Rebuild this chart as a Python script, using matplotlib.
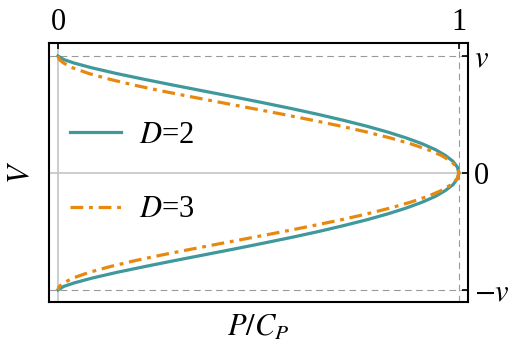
import matplotlib
matplotlib.use("Agg")
import matplotlib.pyplot as plt

plt.rcParams['font.family'] = ['Liberation Serif', 'DejaVu Serif']
plt.rcParams['mathtext.fontset'] = 'stix'

# V in units of v, P in units of C_P
V = [1.0, 0.97, 0.94, 0.9, 0.85, 0.8, 0.75, 0.7, 0.65, 0.6, 0.55, 0.5, 0.45,
     0.4, 0.35, 0.3, 0.25, 0.2, 0.15, 0.1, 0.05, 0.0,
     -0.05, -0.1, -0.15, -0.2, -0.25, -0.3, -0.35, -0.4, -0.45, -0.5, -0.55,
     -0.6, -0.65, -0.7, -0.75, -0.8, -0.85, -0.9, -0.94, -0.97, -1.0]
P_d2 = [0.0, 0.014, 0.040, 0.083, 0.146, 0.216, 0.289, 0.364, 0.439, 0.512,
        0.583, 0.650, 0.712, 0.770, 0.822, 0.868, 0.908, 0.941, 0.966, 0.985,
        0.996, 1.0,
        0.996, 0.985, 0.966, 0.941, 0.908, 0.868, 0.822, 0.770, 0.712, 0.650,
        0.583, 0.512, 0.439, 0.364, 0.289, 0.216, 0.146, 0.083, 0.040, 0.014, 0.0]
P_d3 = [0.0, 0.003, 0.014, 0.036, 0.077, 0.130, 0.191, 0.260, 0.334, 0.410,
        0.487, 0.563, 0.636, 0.706, 0.770, 0.828, 0.879, 0.922, 0.956, 0.980,
        0.995, 1.0,
        0.995, 0.980, 0.956, 0.922, 0.879, 0.828, 0.770, 0.706, 0.636, 0.563,
        0.487, 0.410, 0.334, 0.260, 0.191, 0.130, 0.077, 0.036, 0.014, 0.003, 0.0]

FS = 22

fig = plt.figure(figsize=(5.15, 3.55), dpi=100)
ax = fig.add_axes([0.0951, 0.1493, 0.8136, 0.7296])

# reference lines
ax.axhline(0, color='#c8c8c8', lw=1.3, zorder=1)
ax.axvline(0, color='#c8c8c8', lw=1.3, zorder=1)
for y in (1, -1):
    ax.axhline(y, color='#999999', lw=0.8, ls=(0, (6, 4)), zorder=1)
ax.axvline(1, color='#999999', lw=0.8, ls=(0, (6, 4)), zorder=1)

ax.plot(P_d2, V, color='#3f989b', lw=2.3, label=r'$D$=2', zorder=3)
ax.plot(P_d3, V, color='#e8890f', lw=2.3, dashes=(4, 1.8, 1.2, 1.8),
        label=r'$D$=3', zorder=3)

ax.set_xlim(-0.0224, 1.0224)
ax.set_ylim(-1.1026, 1.111)

for s in ax.spines.values():
    s.set_linewidth(1.5)

ax.xaxis.tick_top()
ax.set_xticks([0, 1])
ax.set_xticklabels(['0', '1'])
ax.yaxis.tick_right()
ax.set_yticks([1, 0, -1])
ax.set_yticklabels([r'$v$', '0', r'$-v$'])
ax.tick_params(direction='in', length=4, width=1.2, labelsize=FS, pad=4)

ax.set_xlabel(r'$P/C_P$', fontsize=FS, labelpad=8)
ax.set_ylabel(r'$V$', fontsize=FS, labelpad=9)
ax.yaxis.set_label_position('left')

ax.legend(loc='center left', bbox_to_anchor=(0.0, 0.5), frameon=False,
          fontsize=FS, handlelength=1.65, handletextpad=0.6, labelspacing=1.5,
          borderaxespad=0.3)

fig.savefig('out.png', dpi=100)
